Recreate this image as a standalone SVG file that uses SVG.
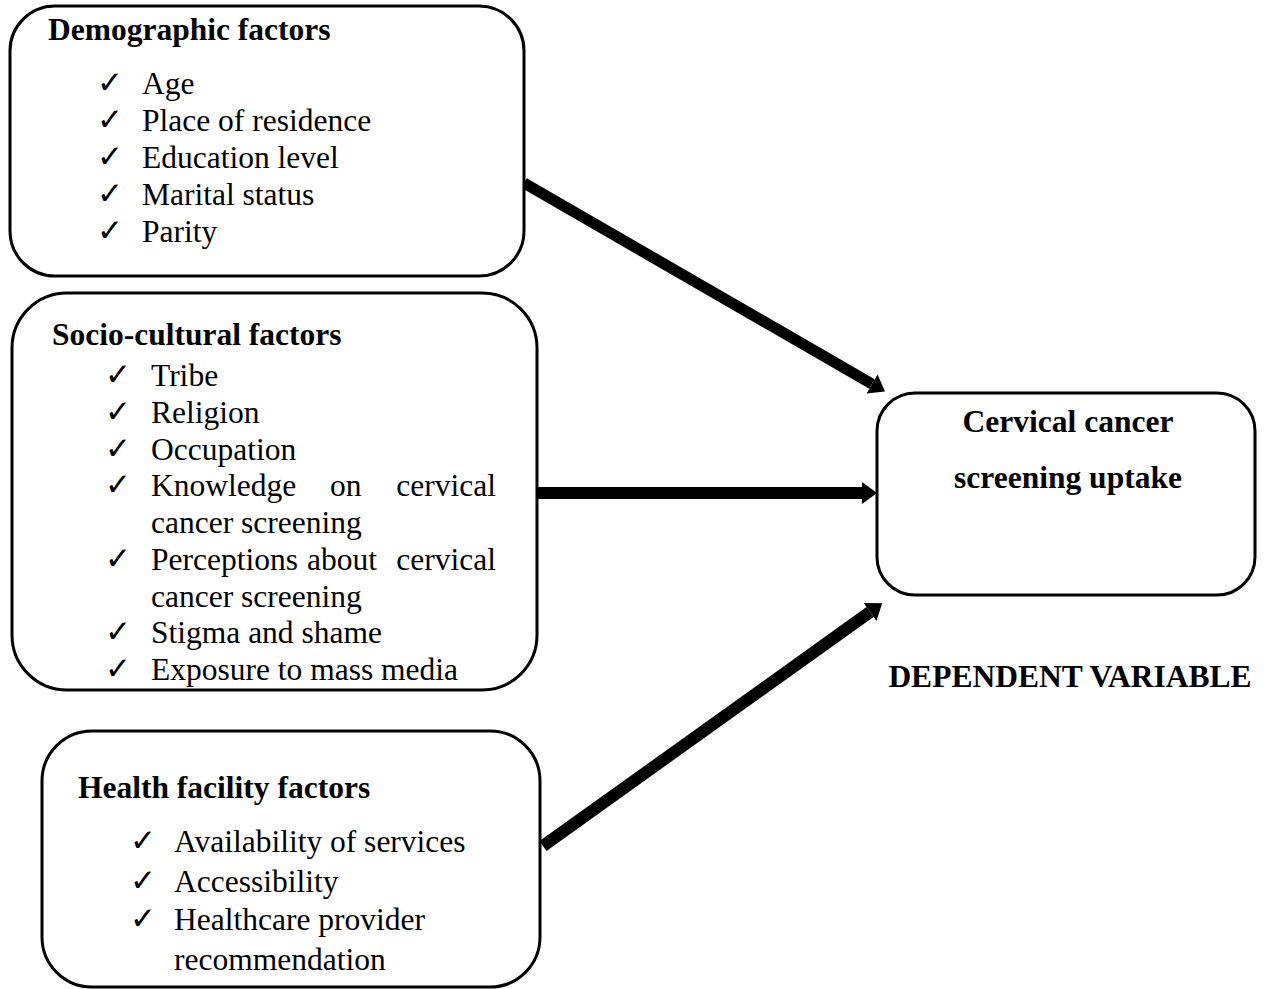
<svg xmlns="http://www.w3.org/2000/svg" width="1265" height="989" viewBox="0 0 1265 989">
<style>
.box{fill:#fff;stroke:#000;stroke-width:3}
.t{font-family:"Liberation Serif","Times New Roman",serif;font-size:31.5px;fill:#000}
.b{font-family:"Liberation Serif","Times New Roman",serif;font-size:31.5px;font-weight:bold;fill:#000}
.ck{font-family:"DejaVu Sans",sans-serif;font-size:31px;fill:#000}
.con{stroke:#000;fill:none}
</style>
<defs>
<marker id="ah" markerUnits="userSpaceOnUse" markerWidth="16" markerHeight="24" refX="0" refY="11" orient="auto">
<path d="M0,0 L15,11 L0,22 z" fill="#000"/>
</marker>
</defs>
<rect width="1265" height="989" fill="#fff"/>
<g id="connectors">
<line class="con" x1="524" y1="183" x2="872" y2="384" stroke-width="11" marker-end="url(#ah)"/>
<line class="con" x1="538" y1="493" x2="862" y2="493" stroke-width="12" marker-end="url(#ah)"/>
<line class="con" x1="543" y1="846" x2="870" y2="612" stroke-width="12" marker-end="url(#ah)"/>
</g>
<g id="demographic">
<rect class="box" x="10" y="6" width="514" height="270" rx="45"/>
<text class="b" x="48" y="40">Demographic factors</text>
<text class="ck" x="97" y="93">✓</text><text class="t" x="142" y="94">Age</text>
<text class="ck" x="97" y="130">✓</text><text class="t" x="142" y="131">Place of residence</text>
<text class="ck" x="97" y="167">✓</text><text class="t" x="142" y="168">Education level</text>
<text class="ck" x="97" y="204">✓</text><text class="t" x="142" y="205">Marital status</text>
<text class="ck" x="97" y="241">✓</text><text class="t" x="142" y="242">Parity</text>
</g>
<g id="sociocultural">
<rect class="box" x="12" y="293" width="525" height="397" rx="55"/>
<text class="b" x="52" y="345">Socio-cultural factors</text>
<text class="ck" x="105" y="385">✓</text><text class="t" x="151" y="386">Tribe</text>
<text class="ck" x="105" y="422">✓</text><text class="t" x="151" y="423">Religion</text>
<text class="ck" x="105" y="459">✓</text><text class="t" x="151" y="460">Occupation</text>
<text class="ck" x="105" y="495">✓</text><text class="t" y="496"><tspan x="151">Knowledge</tspan><tspan x="330">on</tspan><tspan x="496" text-anchor="end">cervical</tspan></text>
<text class="t" x="151" y="533">cancer screening</text>
<text class="ck" x="105" y="569">✓</text><text class="t" y="570"><tspan x="151">Perceptions</tspan><tspan x="307">about</tspan><tspan x="496" text-anchor="end">cervical</tspan></text>
<text class="t" x="151" y="607">cancer screening</text>
<text class="ck" x="105" y="642">✓</text><text class="t" x="151" y="643">Stigma and shame</text>
<text class="ck" x="105" y="679">✓</text><text class="t" x="151" y="680">Exposure to mass media</text>
</g>
<g id="healthfacility">
<rect class="box" x="42" y="731" width="498" height="256" rx="50"/>
<text class="b" x="78" y="798">Health facility factors</text>
<text class="ck" x="130" y="851">✓</text><text class="t" x="174" y="852">Availability of services</text>
<text class="ck" x="130" y="891">✓</text><text class="t" x="174" y="892">Accessibility</text>
<text class="ck" x="130" y="929">✓</text><text class="t" x="174" y="930">Healthcare provider</text>
<text class="t" x="174" y="970">recommendation</text>
</g>
<g id="dependent">
<rect class="box" x="877" y="393" width="378" height="202" rx="38"/>
<text class="b" x="1068" y="432" text-anchor="middle">Cervical cancer</text>
<text class="b" x="1068" y="488" text-anchor="middle">screening uptake</text>
</g>
<g id="label">
<text class="b" x="1070" y="687" text-anchor="middle">DEPENDENT VARIABLE</text>
</g>
</svg>
